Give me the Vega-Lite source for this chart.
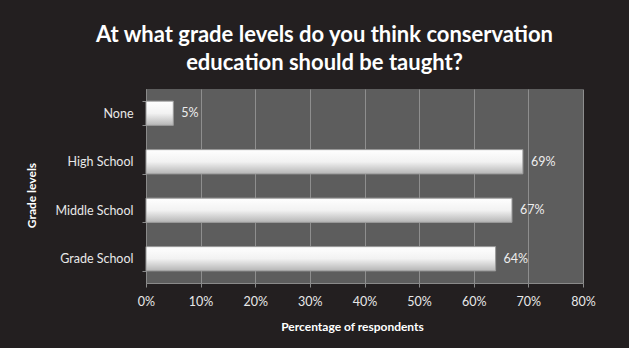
{
  "$schema": "https://vega.github.io/schema/vega-lite/v6.json",
  "width": 437,
  "height": 194,
  "autosize": {"type": "none"},
  "padding": {"left": 146, "top": 89, "right": 46, "bottom": 65},
  "background": "#231f20",
  "title": {
    "text": ["At what grade levels do you think conservation", "education should be taught?"],
    "font": "Lato",
    "fontSize": 22,
    "fontWeight": "bold",
    "color": "#ffffff",
    "anchor": "middle",
    "dx": -40,
    "offset": 8,
    "lineHeight": 28
  },
  "config": {
    "view": {"fill": "#5d5d5d", "stroke": null},
    "axis": {
      "labelFont": "Lato",
      "labelFontSize": 12.5,
      "labelColor": "#e8e8e8",
      "titleFont": "Lato",
      "titleFontSize": 12,
      "titleFontWeight": "bold",
      "titleColor": "#ffffff",
      "domainColor": "#8a8a8a",
      "tickColor": "#8a8a8a",
      "gridColor": "#8e8e8e"
    }
  },
  "data": {
    "values": [
      {"level": "None", "pct": 0.05},
      {"level": "High School", "pct": 0.69},
      {"level": "Middle School", "pct": 0.67},
      {"level": "Grade School", "pct": 0.64}
    ]
  },
  "encoding": {
    "y": {
      "field": "level",
      "type": "nominal",
      "sort": ["None", "High School", "Middle School", "Grade School"],
      "scale": {"paddingInner": 0.5, "paddingOuter": 0.25},
      "axis": {
        "title": "Grade levels",
        "tickBand": "extent",
        "tickSize": 4,
        "labelPadding": 9,
        "titlePadding": 16,
        "titleY": 106,
        "grid": false
      }
    },
    "x": {
      "field": "pct",
      "type": "quantitative",
      "scale": {"domain": [0, 0.8]},
      "axis": {
        "title": "Percentage of respondents",
        "values": [0, 0.1, 0.2, 0.3, 0.4, 0.5, 0.6, 0.7, 0.8],
        "format": ".0%",
        "labelFlush": false,
        "tickSize": 4,
        "labelPadding": 8,
        "titlePadding": 14,
        "titleX": 206,
        "grid": true
      }
    }
  },
  "layer": [
    {
      "mark": {
        "type": "bar",
        "stroke": "#9a9a9a",
        "strokeWidth": 1,
        "fill": {
          "gradient": "linear",
          "x1": 0, "y1": 0, "x2": 0, "y2": 1,
          "stops": [
            {"offset": 0, "color": "#ffffff"},
            {"offset": 0.5, "color": "#f2f2f2"},
            {"offset": 1, "color": "#b5b5b5"}
          ]
        }
      }
    },
    {
      "mark": {
        "type": "text",
        "align": "left",
        "baseline": "middle",
        "dx": 8,
        "font": "Lato",
        "fontSize": 12.5,
        "color": "#eeeeee"
      },
      "encoding": {
        "text": {"field": "pct", "type": "quantitative", "format": ".0%"}
      }
    }
  ]
}
